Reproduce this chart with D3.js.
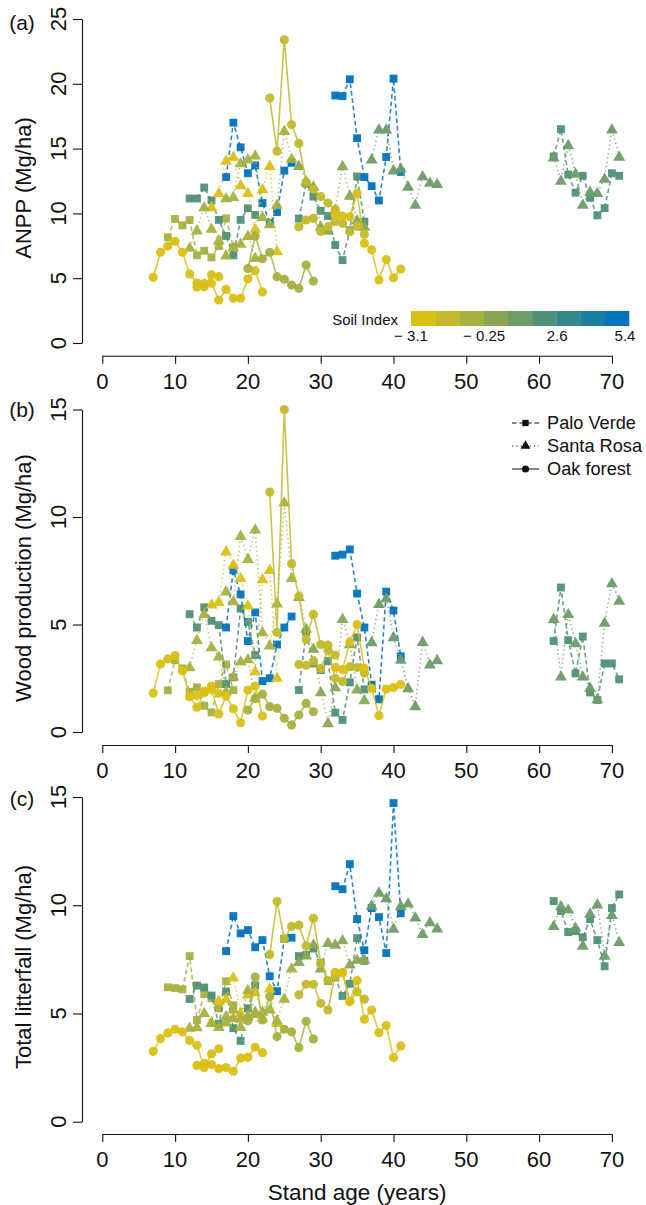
<!DOCTYPE html>
<html><head><meta charset="utf-8">
<script src="https://cdn.jsdelivr.net/npm/d3@7"></script>
<style>body{margin:0;background:#fff} svg{display:block} text{font-family:"Liberation Sans",Arial,Helvetica,sans-serif;fill:#111}</style>
</head><body><svg id="chart" width="646" height="1205"></svg>
<script>
// ---- data ----
const palette = ["#DBC016","#C2BA2B","#A6B13F","#8AA654","#6D9C67","#4F9177","#358889","#1E7E9F","#0273BD"];
const soilTicks = [-3.1, -0.25, 2.6, 5.4];
const siteNames = ["Palo Verde","Santa Rosa","Oak forest"];
const xTicks = [0,10,20,30,40,50,60,70];
const yTicksA = [0,5,10,15,20,25];
const yTicksBC = [0,5,10,15];

// one entry per plot: site (0 PV,1 SR,2 Oak), soil colour class, first stand age
const seriesSite  = [0,0,0,0,0,0, 1,1,1,1,1,1, 2,2,2,2,2,2];
const seriesColor = [2,5,8,5,8,5, 0,2,2,3,4,4, 0,0,2,1,1,0];
const seriesStart = [9,12,17,27,32,62, 15,12,17,27,37,62, 7,13,20,23,27,32];

const anpp = [
 [8.16,9.57,9.08,9.49,6.77,7.12,6.61,7.48,9.62,7.38],
 [11.15,11.15,12.0,11.0,9.5,8.26,6.77,9.5,10.4,9.88],
 [12.8,17.0,15.1,13.1,13.7,10.8,9.26,10.1,13.3,13.9],
 [9.6,12.3,11.3,10.2,9.8,7.56,6.4,8.7,12.85,9.36],
 [19.1,19.05,20.35,15.8,12.8,12.1,11.0,14.35,20.4,13.2],
 [14.4,16.5,13.0,11.6,12.9,11.2,9.85,10.4,13.1,12.9],
 [10.5,11.6,14.1,14.4,12.2,11.6,8.85,11.9,13.7,7.12],
 [7.38,8.72,10.5,8.85,7.95,6.79,7.4,7.69,8.3,6.6],
 [11.2,11.3,13.9,14.2,14.5,9.75,9.2,10.7,16.4,14.25],
 [13.7,12.5,12.1,9.0,8.7,10.3,13.68,11.4,9.5,9.0],
 [14.2,16.5,16.5,13.35,13.5,12.1,10.7,12.9,12.4,12.3],
 [14.35,12.55,15.3,13.1,10.7,11.7,11.6,12.7,16.5,14.4],
 [5.07,7.0,7.48,7.85,7.0,5.32,4.63,4.33,5.27,5.12],
 [4.32,4.6,4.6,3.32,4.14,3.45,3.45,4.96,5.58,3.94],
 [5.74,8.26,6.5,7.0,5.12,4.92,4.47,4.22,6.02,4.78],
 [18.9,14.8,23.4,16.85,15.4,12.4,11.86,11.3,10.8,10.3],
 [8.97,9.49,9.62,8.6,8.98,9.36,9.23,8.59,9.0,8.4],
 [9.9,9.8,9.75,11.55,7.7,7.19,4.87,6.44,5.03,5.71]
];
const wood = [
 [1.94,3.34,2.96,1.87,2.08,1.22,0.91,2.23,3.14,1.95],
 [5.48,4.86,5.8,5.17,4.97,2.23,2.54,5.74,5.12,3.58],
 [4.86,7.52,6.4,4.23,5.56,2.37,2.5,4.07,4.86,5.37],
 [1.95,4.66,3.19,2.88,3.3,0.9,0.56,2.31,4.4,1.98],
 [8.2,8.25,8.49,6.44,4.86,2.2,1.52,6.53,5.65,3.52],
 [4.23,6.72,4.27,2.73,4.44,1.84,1.49,3.19,3.19,2.45],
 [5.95,6.07,8.42,7.8,7.18,5.9,2.85,7.12,7.56,2.54],
 [3.03,4.3,5.51,3.96,3.53,1.9,2.6,3.3,3.4,1.6],
 [6.56,6.1,9.14,8.07,9.44,4.66,4.04,6.0,10.7,7.18],
 [6.3,4.82,3.89,1.87,0.43,2.1,5.28,4.1,2.0,1.5],
 [4.2,5.97,6.24,4.43,3.38,2.06,1.22,4.21,3.16,3.36],
 [5.28,2.6,5.51,4.15,2.6,2.07,1.54,5.1,6.94,6.12],
 [1.81,3.16,3.4,3.56,2.85,1.64,1.15,1.83,2.14,1.8],
 [1.7,1.9,1.96,0.84,1.67,1.08,0.43,1.95,2.14,0.74],
 [1.02,1.56,1.76,1.18,1.1,0.64,0.33,0.79,1.33,0.94],
 [11.16,4.63,15.0,7.83,6.32,4.3,5.47,4.07,4.04,3.58],
 [3.14,3.1,3.3,2.95,3.8,2.5,2.35,3.04,3.0,2.74],
 [3.0,2.9,4.19,5.0,2.97,2.03,0.76,2.0,2.07,2.21]
];
const litter = [
 [6.21,6.17,6.12,7.65,4.7,5.9,5.7,5.24,6.49,5.38],
 [5.67,6.29,6.2,5.83,4.53,6.01,4.32,3.73,5.24,6.3],
 [7.88,9.5,8.7,8.85,8.06,8.39,6.72,6.03,8.45,8.5],
 [7.65,7.7,8.0,7.35,6.5,6.66,5.81,6.37,8.48,7.43],
 [10.88,10.74,11.9,9.36,7.92,9.87,9.45,7.79,14.72,9.63],
 [10.19,9.73,8.76,8.8,8.52,9.36,8.39,7.18,9.87,10.5],
 [4.62,5.6,5.7,6.68,5.04,5.9,6.0,4.8,6.17,4.58],
 [4.36,4.39,5.04,4.58,4.4,4.9,4.8,4.4,4.9,5.0],
 [4.6,5.2,4.8,6.1,5.1,5.1,5.2,4.7,5.7,7.1],
 [7.4,7.7,8.2,7.1,8.28,8.2,8.4,7.28,7.5,7.5],
 [10.0,10.6,10.34,8.94,9.99,10.1,9.45,8.69,9.23,8.95],
 [9.06,9.97,9.82,8.97,8.15,9.63,10.06,7.69,9.57,8.32],
 [3.25,3.84,4.1,4.27,4.15,3.75,3.53,2.5,3.13,3.37],
 [2.6,2.7,2.64,2.45,2.5,2.33,2.94,2.98,3.44,3.19],
 [4.66,6.68,4.7,5.78,3.93,4.27,4.15,3.42,4.64,3.82],
 [7.72,10.17,8.45,9.02,9.08,8.12,9.4,7.32,6.52,6.7],
 [5.86,6.35,6.35,5.47,5.16,6.86,6.89,5.55,6.0,5.66],
 [6.9,6.89,5.56,6.52,4.73,5.16,4.11,4.44,2.96,3.5]
];

// ---- drawing ----
const svg = d3.select("#chart");
const x = d3.scaleLinear().domain([0,70]).range([102.3,611.9]);
const panels = [
 {vals:anpp,  dom:[0,25], rng:[343,19],    ticks:yTicksA,  axisY:355.7, label:"ANPP (Mg/ha)",             labY:188, tag:"(a)", tagY:22},
 {vals:wood,  dom:[0,15], rng:[732,409.5], ticks:yTicksBC, axisY:745,   label:"Wood production (Mg/ha)",  labY:578, tag:"(b)", tagY:409},
 {vals:litter,dom:[0,15], rng:[1121.7,797],ticks:yTicksBC, axisY:1134,  label:"Total litterfall (Mg/ha)", labY:967, tag:"(c)", tagY:798}
];
const dashes = ["4.5,3","1.2,3.2",null];
const shapes = [d3.symbolSquare, d3.symbolTriangle, d3.symbolCircle];
const sizes = [62, 62, 66];
const FS = 22;

panels.forEach(p => {
  const y = d3.scaleLinear().domain(p.dom).range(p.rng);
  const g = svg.append("g");
  const ya = g.append("g").attr("transform","translate(82,0)")
    .call(d3.axisLeft(y).tickValues(p.ticks).tickSize(9).tickSizeOuter(0).tickFormat(""));
  ya.selectAll("path,line").attr("stroke","#111").attr("stroke-width",1.1);
  p.ticks.forEach(t => {
    g.append("text").attr("transform",`translate(65.5,${y(t)}) rotate(-90)`)
      .attr("text-anchor","middle").attr("font-size",FS).text(t);
  });
  const xa = g.append("g").attr("transform",`translate(0,${p.axisY})`)
    .call(d3.axisBottom(x).tickValues(xTicks).tickSize(8).tickSizeOuter(0).tickFormat(""));
  xa.selectAll("path,line").attr("stroke","#111").attr("stroke-width",1.1);
  xTicks.forEach(t => {
    g.append("text").attr("x",x(t)).attr("y",p.axisY+33).attr("text-anchor","middle")
      .attr("font-size",FS).text(t);
  });
  g.append("text").attr("transform",`translate(31,${p.labY}) rotate(-90)`)
    .attr("text-anchor","middle").attr("font-size",FS).text(p.label);
  g.append("text").attr("x",22).attr("y",p.tagY+7.5).attr("text-anchor","middle")
    .attr("font-size",21).text(p.tag);

  const line = d3.line().x(d=>x(d[0])).y(d=>y(d[1]));
  p.vals.forEach((vals,i) => {
    const pts = vals.map((v,k)=>[seriesStart[i]+k, v]);
    const col = palette[seriesColor[i]];
    const site = seriesSite[i];
    g.append("path").attr("d",line(pts)).attr("fill","none").attr("stroke",col)
      .attr("stroke-width",1.6).attr("stroke-opacity",0.85)
      .attr("stroke-dasharray",dashes[site]);
    g.selectAll(null).data(pts).enter().append("path")
      .attr("d",d3.symbol().type(shapes[site]).size(sizes[site]))
      .attr("transform",d=>`translate(${x(d[0])},${y(d[1]) + (site===1?1:0)})`)
      .attr("fill",col).attr("fill-opacity",0.95);
  });
});

// soil index colour bar (panel a)
const cb = d3.scaleLinear().domain([-3.1,5.4]).range([411,629]);
const cw = (629-411)/palette.length;
palette.forEach((c,i)=>{
  svg.append("rect").attr("x",411+i*cw).attr("y",311).attr("width",cw+0.3).attr("height",15).attr("fill",c);
});
svg.append("text").attr("x",398).attr("y",325).attr("text-anchor","end").attr("font-size",15).text("Soil Index");
soilTicks.forEach((t,i)=>{
  const lab = t<0 ? "\u2212 "+Math.abs(t) : String(t);
  svg.append("text").attr("x",i===3?cb(t)-4:cb(t)).attr("y",341).attr("text-anchor","middle")
    .attr("font-size",15).text(lab);
});

// site legend (panel b)
siteNames.forEach((n,i)=>{
  const yy = 423 + i*23;
  svg.append("line").attr("x1",512).attr("x2",539).attr("y1",yy).attr("y2",yy)
    .attr("stroke","#111").attr("stroke-width",1).attr("stroke-dasharray",dashes[i]);
  svg.append("path").attr("d",d3.symbol().type(shapes[i]).size(i===1?42:40)())
    .attr("transform",`translate(525.5,${yy})`).attr("fill","#111");
  svg.append("text").attr("x",547).attr("y",yy+6).attr("font-size",18.2).text(n);
});

svg.append("text").attr("x",x(35)).attr("y",1200).attr("text-anchor","middle")
  .attr("font-size",22.5).text("Stand age (years)");
</script></body></html>
